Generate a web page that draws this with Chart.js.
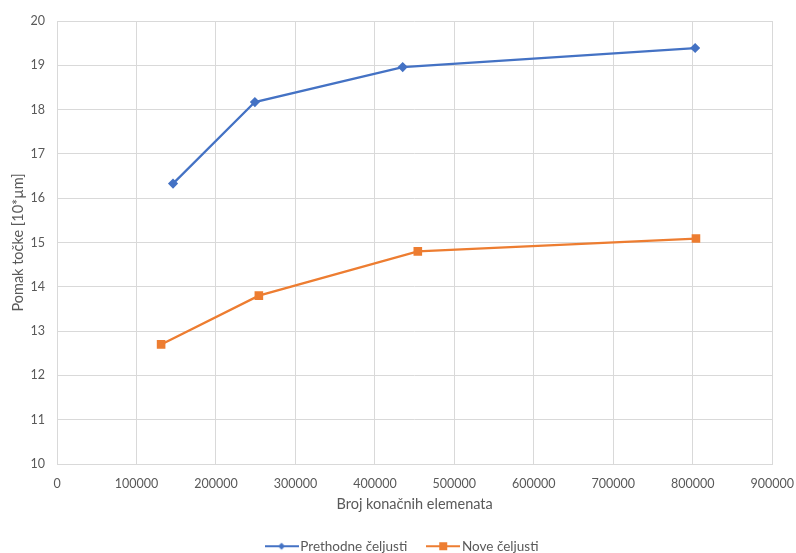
<!DOCTYPE html>
<html>
<head>
<meta charset="utf-8">
<script src="https://cdn.jsdelivr.net/npm/chart.js@4"></script>
<style>
  body { margin: 0; background: #fff; }
  #wrap { width: 796px; height: 553px; }
</style>
</head>
<body>
<div id="wrap"><canvas id="chart" width="796" height="553"></canvas></div>
<script>
var seriesNames = ["Prethodne čeljusti", "Nove čeljusti"];
var prethodneX = [146000, 249000, 435000, 803000];
var prethodneY = [16.33, 18.17, 18.96, 19.39];
var noveX = [131000, 254000, 454000, 804000];
var noveY = [12.7, 13.8, 14.8, 15.09];

var blue = "#4472c4";
var orange = "#ed7d31";
var textColor = "#595959";
var gridColor = "#d9d9d9";

function points(xs, ys) {
    var out = [];
    xs.forEach(function(x, i) { out.push({ x: x, y: ys[i] }); });
    return out;
}

// legend swatch: short line with the marker in the middle
function legendIcon(color, style) {
    var c = document.createElement("canvas");
    c.width = 34; c.height = 10;
    var g = c.getContext("2d");
    g.strokeStyle = color; g.lineWidth = 2;
    g.beginPath(); g.moveTo(0, 5); g.lineTo(34, 5); g.stroke();
    g.fillStyle = color;
    if (style == "diamond") {
        g.beginPath(); g.moveTo(17, 1.5); g.lineTo(20.5, 5); g.lineTo(17, 8.5); g.lineTo(13.5, 5); g.closePath(); g.fill();
    } else {
        g.fillRect(13, 1, 8, 8);
    }
    return c;
}

Chart.defaults.font.family = "Lato, 'Open Sans', sans-serif";
Chart.defaults.font.size = 12.5;
Chart.defaults.color = textColor;

var config = {
    type: 'line',
    data: {
        datasets: [{
            label: seriesNames[0],
            data: points(prethodneX, prethodneY),
            borderColor: blue,
            backgroundColor: blue,
            borderWidth: 2.25,
            pointStyle: 'rectRot',
            pointRadius: 3.5,
            pointHoverRadius: 3.5
        }, {
            label: seriesNames[1],
            data: points(noveX, noveY),
            borderColor: orange,
            backgroundColor: orange,
            borderWidth: 2.25,
            pointStyle: 'rect',
            pointRadius: 4.5,
            pointHoverRadius: 4.5
        }]
    },
    options: {
        responsive: false,
        animation: false,
        layout: { padding: { top: 21, right: -8, left: 4, bottom: -10 } },
        plugins: {
            legend: {
                position: 'bottom',
                labels: {
                    usePointStyle: true,
                    pointStyleWidth: 24,
                    padding: 24,
                    font: { size: 13.5 },
                    generateLabels: function(chart) {
                        return chart.data.datasets.map(function(ds, i) {
                            return {
                                text: ds.label,
                                pointStyle: legendIcon(ds.borderColor, i == 0 ? "diamond" : "square"),
                                fontColor: textColor,
                                datasetIndex: i,
                                lineWidth: 0
                            };
                        });
                    }
                }
            },
            tooltip: { enabled: false }
        },
        scales: {
            x: {
                type: 'linear',
                min: 0, max: 900000,
                ticks: { stepSize: 100000, padding: 2, maxRotation: 0, callback: function(v) { return v; } },
                grid: { color: gridColor, drawTicks: true, tickLength: 10, tickColor: 'rgba(0,0,0,0)' },
                border: { color: gridColor },
                title: { display: true, text: 'Broj konačnih elemenata', font: { size: 14.5 }, padding: { top: 0, bottom: 2.5 } },
                afterFit: function(s) { s.height = 51.5; }
            },
            y: {
                min: 10, max: 20,
                ticks: { stepSize: 1, padding: 12 },
                grid: { color: gridColor, drawTicks: false },
                border: { display: false },
                title: { display: true, text: 'Pomak točke [10*µm]', font: { size: 14.5 }, padding: { top: 6, bottom: 0 } },
                afterFit: function(s) { s.width = 53; }
            }
        }
    }
};

var ctx = document.getElementById("chart");
window.myChart = new Chart(ctx, config);
</script>
</body>
</html>
